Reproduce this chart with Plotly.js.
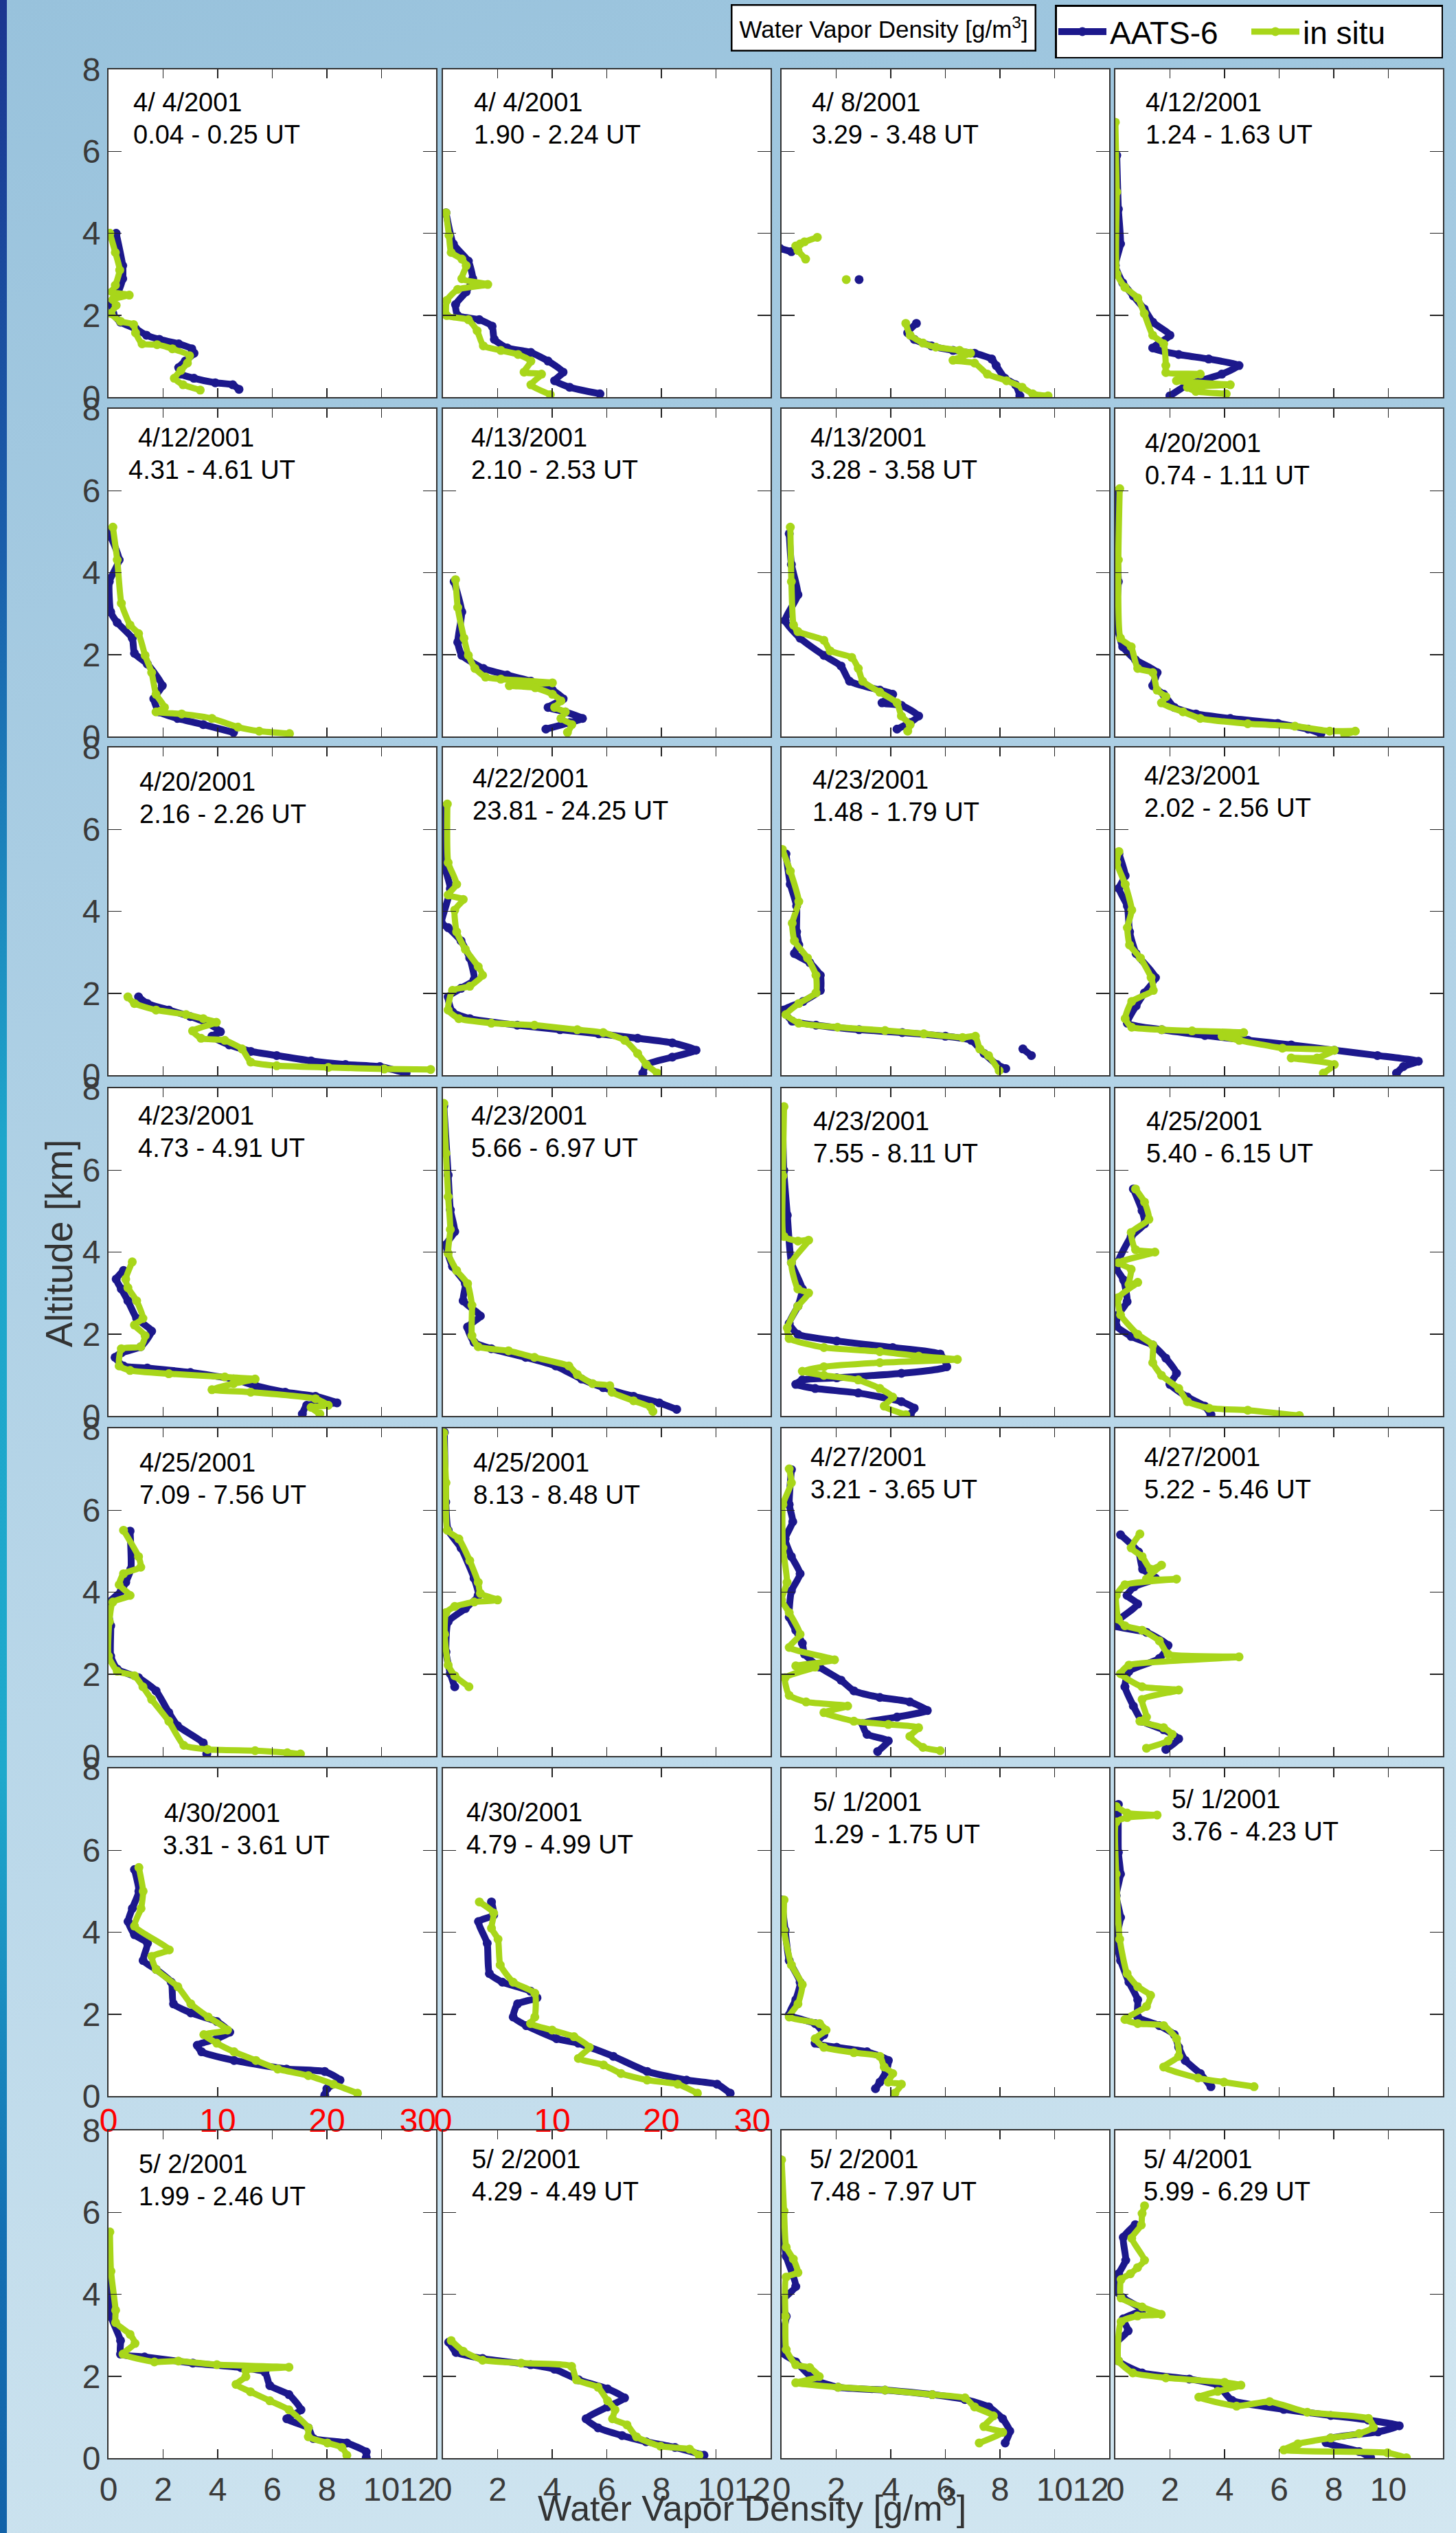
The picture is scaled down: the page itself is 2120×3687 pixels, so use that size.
<!DOCTYPE html>
<html>
<head>
<meta charset="utf-8">
<script src="https://cdn.plot.ly/plotly-3.0.1.min.js"></script>
<style>
html,body{margin:0;padding:0;}
body{width:2120px;height:3687px;overflow:hidden;position:relative;
background:linear-gradient(165deg,#98c2dc 0%,#a9cde3 30%,#bcd9ea 65%,#d3e7f1 100%);}
#strip{position:absolute;left:0;top:0;width:10px;height:3687px;
background:linear-gradient(180deg,#1b3590 0%,#1a5fab 22%,#1ea6cb 45%,#1fa9cc 70%,#1470b3 88%,#1262a8 100%);}
#plot{position:absolute;left:0;top:0;width:2120px;height:3687px;}
</style>
</head>
<body>
<div id="strip"></div>
<div id="plot"></div>
<script>
// ---------------- DATA ----------------
const dates = ["4/ 4/2001","4/ 4/2001","4/ 8/2001","4/12/2001","4/12/2001","4/13/2001","4/13/2001","4/20/2001",
"4/20/2001","4/22/2001","4/23/2001","4/23/2001","4/23/2001","4/23/2001","4/23/2001","4/25/2001",
"4/25/2001","4/25/2001","4/27/2001","4/27/2001","4/30/2001","4/30/2001","5/ 1/2001","5/ 1/2001",
"5/ 2/2001","5/ 2/2001","5/ 2/2001","5/ 4/2001"];
const times = ["0.04 - 0.25 UT","1.90 - 2.24 UT","3.29 - 3.48 UT","1.24 - 1.63 UT","4.31 - 4.61 UT","2.10 - 2.53 UT","3.28 - 3.58 UT","0.74 - 1.11 UT",
"2.16 - 2.26 UT","23.81 - 24.25 UT","1.48 - 1.79 UT","2.02 - 2.56 UT","4.73 - 4.91 UT","5.66 - 6.97 UT","7.55 - 8.11 UT","5.40 - 6.15 UT",
"7.09 - 7.56 UT","8.13 - 8.48 UT","3.21 - 3.65 UT","5.22 - 5.46 UT","3.31 - 3.61 UT","4.79 - 4.99 UT","1.29 - 1.75 UT","3.76 - 4.23 UT",
"1.99 - 2.46 UT","4.29 - 4.49 UT","7.48 - 7.97 UT","5.99 - 6.29 UT"];
const xTicksSmall = [0,2,4,6,8,10,12];
const xTickTextSmall = ["0","2","4","6","8","10","12"];
const xTicksWide = [0,10,20,30];
const xTickTextWide = ["0","10","20","30"];
const yTicks = [0,2,4,6,8];

// Panel 1
const aats_x_01=[0.28,0.52,0.52,0.36,0.13,0.16,0.44,0.99,1.39,1.86,2.57,3.05,3.13,2.81,2.57,2.65,3.13,3.91,4.55,4.78];
const aats_z_01=[4.00,3.21,2.89,2.57,2.26,2.04,1.83,1.67,1.51,1.41,1.30,1.18,1.07,0.88,0.72,0.56,0.46,0.35,0.30,0.19];
const situ_x_01=[0.05,0.25,0.41,0.25,0.13,0.76,0.16,0.28,0.09,0.44,0.92,0.99,1.23,1.78,2.34,2.97,2.89,2.65,2.41,2.73,3.36];
const situ_z_01=[4.00,3.53,3.10,2.73,2.57,2.49,2.38,2.24,2.04,1.85,1.77,1.57,1.30,1.28,1.18,1.01,0.83,0.65,0.46,0.30,0.17];
// Panel 2
const aats_x_02=[0.11,0.38,0.93,1.09,0.85,0.46,0.54,1.33,1.80,1.88,2.35,3.22,3.85,4.40,4.09,4.64,5.75];
const aats_z_02=[4.50,3.74,3.32,2.89,2.57,2.26,1.99,1.89,1.73,1.41,1.20,1.09,0.88,0.61,0.40,0.24,0.08];
const situ_x_02=[0.11,0.22,0.30,0.69,0.85,0.69,1.64,0.54,0.14,0.14,0.93,1.25,1.48,2.12,2.75,3.22,2.97,3.61,3.22,3.93];
const situ_z_02=[4.50,3.95,3.53,3.37,3.21,2.89,2.75,2.63,2.36,1.99,1.89,1.62,1.25,1.14,1.04,0.88,0.61,0.56,0.30,0.06];
// Panel 3
const aats_x_03=[-0.06,0.36,null,2.84,null,4.94,4.62,4.86,5.49,6.28,7.07,7.70,7.86,8.18,8.57,8.73];
const aats_z_03=[3.63,3.55,null,2.87,null,1.80,1.57,1.41,1.25,1.14,1.07,0.93,0.77,0.46,0.30,0.03];
const situ_x_03=[0.88,0.60,0.52,0.68,0.84,1.31,null,2.37,null,4.55,4.71,5.18,5.65,6.52,6.92,6.28,7.07,7.54,8.24,8.81,9.20,9.76];
const situ_z_03=[3.37,3.58,3.69,3.74,3.79,3.90,null,2.87,null,1.80,1.51,1.32,1.22,1.14,1.07,0.90,0.83,0.56,0.40,0.24,0.08,0.03];
// Panel 4
const aats_x_04=[0.05,0.11,0.19,0.00,0.27,0.66,1.06,1.37,2.00,1.37,2.32,3.42,4.53,3.90,2.64,2.00];
const aats_z_04=[5.90,4.59,3.74,3.21,2.79,2.47,2.15,1.83,1.51,1.20,1.04,0.93,0.77,0.56,0.30,0.03];
const situ_x_04=[0.00,0.05,0.06,0.35,0.82,1.06,1.37,1.77,1.85,1.85,3.11,2.24,4.21,2.64,2.95,4.06];
const situ_z_04=[6.71,5.01,3.00,2.68,2.42,2.04,1.51,1.30,0.77,0.60,0.56,0.40,0.30,0.24,0.14,0.08];
// Panel 5
const aats_x_05=[0.00,0.39,0.03,0.08,0.32,0.87,0.95,1.42,1.97,1.66,1.85,2.53,3.47,4.58];
const aats_z_05=[5.00,4.31,3.78,3.04,2.78,2.40,2.03,1.77,1.24,0.92,0.60,0.44,0.29,0.10];
const situ_x_05=[0.16,0.32,0.47,0.79,1.10,1.34,1.58,1.74,2.05,1.74,2.68,3.79,4.74,5.52,6.63];
const situ_z_05=[5.11,4.31,3.25,2.72,2.51,1.98,1.56,1.03,0.71,0.60,0.55,0.44,0.23,0.13,0.07];
// Panel 6
const aats_x_06=[0.41,0.69,0.54,0.69,1.48,2.35,3.22,4.01,4.40,3.85,4.48,5.11,4.64,3.77];
const aats_z_06=[3.78,3.04,2.30,1.98,1.66,1.50,1.35,1.13,0.92,0.71,0.60,0.44,0.34,0.18];
const situ_x_06=[0.46,0.54,0.77,0.93,1.17,1.56,2.12,4.01,2.43,3.38,4.01,4.32,4.09,4.48,4.32,4.72,4.56];
const situ_z_06=[3.83,3.15,2.40,1.98,1.66,1.45,1.40,1.31,1.24,1.19,1.03,0.87,0.71,0.60,0.44,0.29,0.10];
// Panel 7
const aats_x_07=[0.28,0.36,0.60,0.13,0.68,1.55,2.18,2.49,3.60,4.07,3.68,4.39,5.02,4.71,4.23];
const aats_z_07=[4.95,4.20,3.46,2.83,2.40,1.98,1.72,1.35,1.13,1.03,0.82,0.76,0.50,0.34,0.18];
const situ_x_07=[0.32,0.36,0.44,0.60,1.55,1.78,2.57,2.81,2.97,3.60,4.23,4.39,4.71,4.62];
const situ_z_07=[5.11,3.78,2.72,2.56,2.35,2.09,1.93,1.66,1.35,1.08,0.82,0.50,0.29,0.13];
// Panel 8
const aats_x_08=[0.11,0.03,0.11,0.03,0.27,0.74,1.53,1.37,1.77,2.16,2.95,4.21,5.95,7.06,7.53];
const aats_z_08=[6.00,4.84,3.78,2.83,2.19,1.87,1.56,1.24,1.03,0.71,0.55,0.44,0.32,0.18,0.07];
const situ_x_08=[0.16,0.11,0.19,0.58,0.82,1.37,1.53,1.85,1.69,2.48,3.11,4.85,6.58,7.85,8.79,8.40];
const situ_z_08=[6.05,4.31,2.40,2.19,1.66,1.56,1.13,0.97,0.82,0.60,0.44,0.31,0.25,0.13,0.13,0.05];
// Panel 9
const aats_x_09=[1.10,1.42,2.21,3.00,3.63,4.10,3.79,4.42,5.21,6.16,7.42,8.68,9.94,10.9];
const aats_z_09=[1.91,1.75,1.59,1.43,1.27,1.06,0.95,0.74,0.58,0.48,0.35,0.26,0.21,0.05];
const situ_x_09=[0.71,0.95,1.74,2.84,3.47,3.95,3.08,3.39,4.26,4.89,5.21,6.16,8.05,10.1,11.8];
const situ_z_09=[1.91,1.75,1.59,1.48,1.38,1.29,1.08,0.90,0.85,0.64,0.32,0.23,0.19,0.15,0.14];
// Panel 10
const aats_x_10=[0.11,0.03,0.27,-0.05,0.19,0.66,0.98,1.14,0.66,0.19,0.35,0.98,2.72,4.29,5.71,7.13,8.40,9.27,8.40,7.45,7.32];
const aats_z_10=[6.57,5.19,4.55,3.71,3.60,3.28,2.86,2.33,2.12,1.91,1.54,1.38,1.22,1.11,1.01,0.90,0.79,0.61,0.44,0.26,0.05];
const situ_x_10=[0.16,0.19,0.50,0.19,0.74,0.43,0.50,0.82,1.29,1.45,0.98,0.35,0.19,0.58,1.77,3.35,4.92,5.87,6.66,7.13,7.45,7.85];
const situ_z_10=[6.62,5.19,4.66,4.40,4.29,4.03,3.50,3.07,2.65,2.44,2.17,2.07,1.59,1.38,1.27,1.22,1.11,1.04,0.85,0.53,0.26,0.05];
// Panel 11
const aats_x_11=[0.16,0.32,0.55,0.55,0.63,0.47,1.03,1.42,1.42,0.79,0.08,0.39,1.26,2.84,4.42,6.00,6.95,7.42,7.89,8.21,null,8.84,9.15];
const aats_z_11=[5.40,4.66,4.13,3.50,3.18,2.97,2.75,2.44,2.07,1.80,1.59,1.32,1.22,1.11,1.04,0.95,0.85,0.53,0.26,0.16,null,0.64,0.48];
const situ_x_11=[0.03,0.32,0.63,0.39,0.47,0.95,1.26,1.26,0.63,0.16,0.63,2.05,3.79,5.21,6.63,7.10,7.26,7.58,7.97];
const situ_z_11=[5.51,4.98,4.24,3.71,3.28,2.86,2.44,2.01,1.75,1.48,1.27,1.17,1.09,1.01,0.92,0.95,0.64,0.48,0.11];
// Panel 12
const aats_x_12=[0.13,0.36,0.13,0.44,0.52,0.76,1.47,1.07,0.76,0.44,1.70,3.28,4.86,6.44,8.02,9.60,11.1,10.55,10.3];
const aats_z_12=[5.40,4.87,4.56,4.13,3.50,2.97,2.38,2.01,1.69,1.27,1.11,0.97,0.85,0.74,0.61,0.48,0.34,0.21,0.05];
const situ_x_12=[0.13,0.05,0.36,0.60,0.44,0.52,0.92,1.31,1.39,0.60,0.36,0.60,1.70,2.81,4.70,3.91,4.54,6.12,8.02,7.39,6.44,8.02,7.62];
const situ_z_12=[5.46,5.19,4.66,4.03,3.60,3.18,2.86,2.38,2.07,1.80,1.38,1.17,1.11,1.08,1.04,0.95,0.85,0.66,0.61,0.42,0.42,0.26,0.05];
// Panel 13
const aats_x_13=[0.55,0.28,0.47,0.71,1.03,1.58,1.18,0.47,0.24,0.55,1.42,3.00,4.58,5.37,6.47,7.58,8.37,7.26,7.10];
const aats_z_13=[3.55,3.34,3.10,2.81,2.38,2.07,1.69,1.54,1.43,1.22,1.17,1.06,0.90,0.74,0.58,0.48,0.32,0.26,0.05];
const situ_x_13=[0.87,0.63,0.71,1.03,1.26,0.95,1.34,1.18,0.47,0.39,0.79,2.21,4.26,5.37,4.58,3.79,5.21,7.58,8.05,7.42,7.74];
const situ_z_13=[3.76,3.34,3.13,2.81,2.38,2.22,1.96,1.69,1.64,1.22,1.11,1.03,0.95,0.90,0.79,0.64,0.58,0.42,0.26,0.21,0.05];
// Panel 14
const aats_x_14=[0.03,0.19,0.27,0.43,0.11,0.35,0.82,0.74,1.37,0.90,1.14,1.77,3.03,4.13,5.08,5.87,6.98,7.92,8.56];
const aats_z_14=[7.57,5.88,5.03,4.50,4.18,3.65,3.23,2.81,2.44,2.17,1.80,1.64,1.43,1.22,0.90,0.69,0.48,0.32,0.16];
const situ_x_14=[0.03,0.11,0.19,0.27,0.19,0.50,0.90,1.06,1.06,1.29,2.40,3.35,4.61,4.92,5.48,6.11,6.19,6.98,7.61,7.69];
const situ_z_14=[7.63,6.41,5.35,4.55,3.97,3.55,3.23,2.70,1.96,1.69,1.59,1.43,1.22,1.01,0.79,0.74,0.58,0.37,0.21,0.11];
// Panel 15
const aats_x_15=[0.03,0.08,0.21,0.36,0.76,0.60,0.28,0.60,2.02,4.07,5.81,6.05,4.39,2.02,0.76,0.52,1.23,2.81,4.39,4.86,4.71];
const aats_z_15=[7.50,6.00,4.90,3.74,3.10,2.68,2.26,1.99,1.83,1.67,1.51,1.20,1.04,0.93,0.88,0.77,0.67,0.56,0.35,0.19,0.03];
const situ_x_15=[0.09,0.05,0.09,0.60,0.99,0.36,0.60,0.99,0.60,0.21,0.28,1.55,3.60,5.02,6.44,3.60,1.55,0.76,1.55,2.81,3.60,4.07,3.76,4.55];
const situ_z_15=[7.55,5.86,4.38,4.27,4.29,3.74,3.10,3.00,2.68,2.15,1.89,1.67,1.57,1.46,1.38,1.30,1.20,1.09,0.99,0.88,0.67,0.46,0.24,0.03];
// Panel 16
const aats_x_16=[0.66,0.98,1.07,0.58,0.03,0.30,0.43,0.11,0.03,0.58,1.37,1.85,2.24,2.00,2.64,3.27,3.50];
const aats_z_16=[5.54,5.01,4.69,4.38,3.63,3.32,2.79,2.47,2.20,1.94,1.73,1.41,1.04,0.77,0.46,0.24,0.03];
const situ_x_16=[0.74,1.07,1.23,0.58,0.74,1.45,0.11,0.58,0.50,0.82,0.11,0.19,0.82,1.37,1.37,1.69,2.32,2.64,3.43,4.85,6.74];
const situ_z_16=[5.54,5.22,4.80,4.48,4.06,4.00,3.74,3.58,3.21,3.26,2.89,2.47,1.99,1.73,1.30,0.99,0.67,0.35,0.19,0.14,0.01];
// Panel 17
const aats_x_17=[0.79,0.82,0.63,0.47,-0.03,0.08,0.08,0.32,1.10,1.74,2.21,2.53,3.47,3.60];
const aats_z_17=[5.49,4.56,4.24,4.03,3.71,3.18,2.44,2.12,1.91,1.59,1.06,0.74,0.32,0.05];
const situ_x_17=[0.55,1.10,1.18,0.55,0.39,0.79,0.16,0.03,0.00,0.32,0.95,1.26,1.58,2.21,2.76,3.63,5.37,6.55,7.03];
const situ_z_17=[5.51,4.87,4.61,4.45,4.18,3.92,3.76,3.28,2.44,2.07,1.96,1.69,1.38,0.85,0.26,0.16,0.13,0.08,0.05];
// Panel 18
const aats_x_18=[0.05,0.10,0.19,0.66,1.14,1.29,0.82,0.19,0.11,0.27,0.43];
const aats_z_18=[7.90,6.20,5.51,5.08,4.34,3.92,3.60,3.28,2.54,2.01,1.69];
const situ_x_18=[0.03,0.11,0.16,0.58,0.98,1.29,1.37,2.00,1.14,0.43,0.11,0.06,0.19,0.43,0.95];
const situ_z_18=[7.89,6.67,5.51,5.30,4.77,4.24,3.97,3.81,3.76,3.65,3.50,2.97,2.22,1.96,1.69];
// Panel 19
const aats_x_19=[0.36,0.28,0.41,0.13,0.36,0.68,0.36,0.28,0.52,0.76,0.84,1.39,2.18,2.65,3.60,4.70,5.34,4.23,2.97,3.13,3.91,3.52];
const aats_z_19=[6.99,6.14,5.72,5.30,4.87,4.45,4.03,3.39,3.07,2.75,2.49,2.17,1.85,1.59,1.43,1.32,1.11,0.95,0.79,0.53,0.37,0.11];
const situ_x_19=[0.28,0.36,0.05,0.05,0.20,0.00,0.28,0.68,0.28,1.94,0.52,1.23,0.13,0.28,0.90,2.42,1.55,2.65,3.91,5.02,4.70,5.18,5.81];
const situ_z_19=[7.01,6.67,6.14,5.08,4.24,3.81,3.50,2.97,2.65,2.35,2.20,2.17,1.91,1.48,1.32,1.22,1.06,0.85,0.77,0.69,0.48,0.21,0.13];
// Panel 20
const aats_x_20=[0.19,0.85,1.00,1.47,0.69,0.43,0.82,0.03,-0.05,1.14,1.93,1.61,0.50,0.35,0.66,0.98,1.77,2.32,1.85];
const aats_z_20=[5.40,4.98,4.56,4.34,4.13,3.92,3.71,3.28,3.18,3.02,2.70,2.38,2.07,1.69,1.22,0.85,0.64,0.42,0.16];
const situ_x_20=[0.90,0.58,0.98,1.29,1.69,1.14,2.24,0.35,0.03,0.11,0.35,0.98,1.61,1.93,4.53,0.50,0.19,0.98,2.32,0.98,1.14,0.90,1.77,2.08,1.93,1.14];
const situ_z_20=[5.42,5.08,4.87,4.56,4.66,4.32,4.32,4.18,3.92,3.34,3.18,3.07,2.81,2.49,2.42,2.22,2.01,1.69,1.61,1.38,0.95,0.85,0.69,0.53,0.37,0.19];
// Panel 21 (0-30 scale)
const aats_x_21=[2.38,2.78,2.18,1.79,2.38,3.57,3.17,4.37,5.75,5.95,7.54,9.92,11.1,9.92,8.13,8.53,11.5,16.3,19.8,21.2,20.0,19.8];
const aats_z_21=[5.53,5.00,4.58,4.26,3.94,3.73,3.31,3.09,2.78,2.25,2.03,1.82,1.56,1.40,1.24,1.08,0.87,0.66,0.60,0.39,0.18,0.02];
const situ_x_21=[2.78,3.17,2.98,2.38,5.56,3.97,4.37,6.35,7.54,9.13,10.9,8.73,9.92,11.5,13.5,15.5,18.3,20.6,22.8];
const situ_z_21=[5.58,5.00,4.58,4.15,3.57,3.41,3.09,2.67,2.25,1.93,1.61,1.50,1.29,1.08,0.87,0.66,0.50,0.29,0.07];
// Panel 22 (0-30 scale)
const aats_x_22=[4.44,4.64,3.25,4.05,4.25,5.44,8.02,8.61,6.83,6.43,7.62,10.4,12.4,15.6,18.7,22.3,25.1,26.3];
const aats_z_22=[4.74,4.42,4.26,3.73,2.99,2.78,2.56,2.40,2.25,1.93,1.72,1.40,1.29,0.97,0.60,0.39,0.29,0.07];
const situ_x_22=[3.33,4.64,4.44,5.04,5.24,6.43,8.41,8.41,8.02,10.0,12.0,13.4,12.4,14.7,16.3,18.7,21.5,23.3];
const situ_z_22=[4.74,4.47,4.10,3.83,3.20,2.78,2.51,1.93,1.77,1.61,1.45,1.19,0.92,0.76,0.55,0.39,0.29,0.07];
// Panel 23
const aats_x_23=[0.00,0.13,0.28,0.68,0.52,0.28,1.23,1.55,1.23,2.02,3.13,3.91,3.83,3.60,3.44];
const aats_z_23=[4.79,4.05,3.31,2.78,2.35,1.98,1.77,1.50,1.29,1.19,1.08,0.87,0.60,0.34,0.18];
const situ_x_23=[0.09,0.09,0.36,0.76,0.60,0.28,1.39,1.63,1.23,1.55,2.65,3.60,3.76,4.07,3.91,4.39,4.15];
const situ_z_23=[4.79,4.05,3.20,2.72,2.25,1.93,1.77,1.61,1.40,1.19,1.06,0.97,0.71,0.55,0.34,0.29,0.07];
// Panel 24
const aats_x_24=[0.11,0.11,0.19,0.03,0.19,0.03,0.19,0.50,0.82,0.82,1.61,2.16,2.32,2.56,3.11,3.50];
const aats_z_24=[7.12,5.95,5.42,4.89,4.36,3.83,3.31,2.78,2.35,1.93,1.72,1.50,1.19,0.87,0.55,0.23];
const situ_x_24=[0.03,0.43,1.53,0.43,0.03,0.03,0.16,0.43,0.82,1.29,1.14,0.35,0.82,1.77,2.24,2.32,1.77,3.03,3.98,5.08];
const situ_z_24=[7.07,6.91,6.86,6.80,6.69,5.42,3.83,2.99,2.67,2.46,2.19,1.87,1.77,1.72,1.40,0.97,0.71,0.44,0.34,0.23];
// Panel 25
const aats_x_25=[-0.05,-0.09,0.09,0.44,0.44,1.32,3.09,4.85,5.73,5.91,6.61,7.05,6.53,7.32,7.50,8.73,9.44,9.44];
const aats_z_25=[5.30,4.56,3.46,2.87,2.54,2.47,2.32,2.21,2.10,1.77,1.55,1.18,0.96,0.74,0.48,0.37,0.15,0.01];
const situ_x_25=[0.05,0.09,0.26,0.26,0.79,0.97,0.53,1.68,2.56,3.97,6.61,5.03,5.03,4.67,5.20,5.91,6.61,7.32,7.32,8.02,8.55,8.73];
const situ_z_25=[5.52,4.56,3.61,3.31,3.02,2.80,2.54,2.35,2.37,2.28,2.22,2.13,1.99,1.80,1.62,1.40,1.18,0.74,0.52,0.37,0.26,0.07];
// Panel 26
const aats_x_26=[0.21,0.48,1.45,3.21,4.09,4.97,6.03,6.65,6.03,5.24,5.68,6.56,7.44,8.50,9.56];
const aats_z_26=[2.83,2.58,2.43,2.28,2.17,1.91,1.69,1.47,1.25,0.96,0.74,0.55,0.40,0.26,0.07];
const situ_x_26=[0.30,0.74,1.45,2.86,4.71,4.89,5.68,6.03,6.30,6.21,6.74,7.09,7.97,9.03,9.38];
const situ_z_26=[2.87,2.61,2.39,2.32,2.24,1.91,1.73,1.40,1.18,0.96,0.81,0.52,0.29,0.22,0.07];
// Panel 27
const aats_x_27=[-0.03,0.00,0.17,0.52,0.00,0.17,0.00,0.00,0.52,1.21,2.07,3.79,5.52,6.72,7.59,8.10,8.36,8.19];
const aats_z_27=[7.28,6.03,4.93,4.19,3.83,3.46,2.87,2.58,2.35,1.91,1.73,1.66,1.55,1.43,1.25,0.96,0.66,0.37];
const situ_x_27=[0.00,0.09,0.17,0.43,0.60,0.17,0.14,0.17,0.52,1.03,1.38,0.52,2.07,3.79,5.52,6.72,7.07,7.76,7.41,8.10,7.24];
const situ_z_27=[7.28,6.03,5.15,4.86,4.53,4.42,3.46,2.65,2.28,2.21,1.99,1.84,1.73,1.66,1.55,1.47,1.25,1.03,0.77,0.63,0.37];
// Panel 28
const aats_x_28=[0.73,0.29,0.38,0.12,-0.05,0.29,0.98,0.29,0.47,0.03,0.12,0.98,2.71,3.75,4.27,6.17,7.89,9.27,10.40,9.62,7.89,7.72,8.93,9.35];
const aats_z_28=[5.70,5.39,4.83,4.50,4.14,3.91,3.62,3.40,3.11,2.81,2.37,2.08,1.93,1.78,1.41,1.19,1.04,0.93,0.79,0.64,0.49,0.38,0.16,0.01];
const situ_x_28=[1.07,0.98,0.95,0.60,1.07,0.81,0.55,0.21,0.21,0.98,1.68,0.81,0.21,0.12,0.64,1.85,4.00,4.60,3.75,3.06,4.44,5.65,7.03,9.27,9.45,8.93,7.89,6.69,6.17,9.97,10.66];
const situ_z_28=[6.16,5.97,5.69,5.37,4.83,4.65,4.50,4.36,3.91,3.69,3.51,3.47,3.33,2.37,2.08,1.96,1.85,1.78,1.63,1.49,1.27,1.38,1.12,0.97,0.75,0.60,0.49,0.35,0.20,0.13,0.01];

const aatsX=[aats_x_01,aats_x_02,aats_x_03,aats_x_04,aats_x_05,aats_x_06,aats_x_07,aats_x_08,aats_x_09,aats_x_10,aats_x_11,aats_x_12,aats_x_13,aats_x_14,aats_x_15,aats_x_16,aats_x_17,aats_x_18,aats_x_19,aats_x_20,aats_x_21,aats_x_22,aats_x_23,aats_x_24,aats_x_25,aats_x_26,aats_x_27,aats_x_28];
const aatsZ=[aats_z_01,aats_z_02,aats_z_03,aats_z_04,aats_z_05,aats_z_06,aats_z_07,aats_z_08,aats_z_09,aats_z_10,aats_z_11,aats_z_12,aats_z_13,aats_z_14,aats_z_15,aats_z_16,aats_z_17,aats_z_18,aats_z_19,aats_z_20,aats_z_21,aats_z_22,aats_z_23,aats_z_24,aats_z_25,aats_z_26,aats_z_27,aats_z_28];
const situX=[situ_x_01,situ_x_02,situ_x_03,situ_x_04,situ_x_05,situ_x_06,situ_x_07,situ_x_08,situ_x_09,situ_x_10,situ_x_11,situ_x_12,situ_x_13,situ_x_14,situ_x_15,situ_x_16,situ_x_17,situ_x_18,situ_x_19,situ_x_20,situ_x_21,situ_x_22,situ_x_23,situ_x_24,situ_x_25,situ_x_26,situ_x_27,situ_x_28];
const situZ=[situ_z_01,situ_z_02,situ_z_03,situ_z_04,situ_z_05,situ_z_06,situ_z_07,situ_z_08,situ_z_09,situ_z_10,situ_z_11,situ_z_12,situ_z_13,situ_z_14,situ_z_15,situ_z_16,situ_z_17,situ_z_18,situ_z_19,situ_z_20,situ_z_21,situ_z_22,situ_z_23,situ_z_24,situ_z_25,situ_z_26,situ_z_27,situ_z_28];
const widePanels=[20,21]; // panels using 0-30 scale

// ---------------- LAYOUT GEOMETRY ----------------
const W=2120, H=3687;
const colLeft=[158,645,1138,1624], panelW=477;
const rowTop=[101,595,1088,1584,2079,2574,3101], panelH=477;
// [line1 x offset, line2 x offset, cap-top offset] for each panel label
const labelPos=[[34,34,33],[43,43,33],[42,42,33],[42,42,33],
[41,27,27],[39,39,27],[40,40,27],[41,41,35],
[43,43,35],[41,41,30],[43,43,32],[40,40,26],
[41,41,25],[39,39,25],[44,44,33],[43,43,33],
[43,43,35],[42,42,35],[40,40,27],[40,40,27],
[79,77,50],[32,32,49],[44,44,34],[80,80,30],
[42,42,34],[40,40,27],[39,39,27],[39,39,27]];

const FONT='Liberation Sans, Arial, Helvetica, sans-serif';
const NAVY='#1c188c', GREEN='#a8d61a';
const PAD='\u00a0\u00a0\u00a0\u00a0'; // pulls the last tick label inside the frame, as in the original

const traces=[], annotations=[];
const layout={width:W,height:H,margin:{l:0,r:0,t:0,b:0,autoexpand:false},
  paper_bgcolor:'rgba(0,0,0,0)',plot_bgcolor:'#ffffff',
  font:{family:FONT,color:'#000'},
  showlegend:true,
  legend:{orientation:'h',x:2101/W,y:1-7/H,xanchor:'right',yanchor:'top',
    bgcolor:'#ffffff',bordercolor:'#000',borderwidth:2.5,
    font:{size:46,family:FONT,color:'#000'},entrywidth:196,entrywidthmode:'pixels',
    itemwidth:70,tracegroupgap:0,valign:'middle'},
  annotations:annotations};

for(let i=0;i<28;i++){
  const r=Math.floor(i/4), c=i%4, n=i+1, s=(n===1?'':String(n));
  const wide=widePanels.includes(i);
  const showX = (r===6) || (r===5 && wide);
  const tt=(wide?xTickTextWide:xTickTextSmall).slice();
  tt[tt.length-1]=tt[tt.length-1]+PAD;
  layout['xaxis'+s]={domain:[colLeft[c]/W,(colLeft[c]+panelW)/W],anchor:'y'+s,
    range:wide?[0,30]:[0,12],tickvals:wide?xTicksWide:xTicksSmall,ticktext:tt,tickangle:0,
    ticks:'inside',ticklen:13,tickwidth:1.5,tickcolor:'#222',
    showline:true,linecolor:'#333',linewidth:2,mirror:'ticks',
    showgrid:false,zeroline:false,showticklabels:showX,ticklabelstandoff:wide?-8:2,
    tickfont:{family:FONT,size:wide?48:48,color:wide?'#ff0000':'#3a3a3a'},fixedrange:true};
  layout['yaxis'+s]={domain:[1-(rowTop[r]+panelH)/H,1-rowTop[r]/H],anchor:'x'+s,
    range:[0,8],tickvals:yTicks,tickangle:0,
    ticks:'inside',ticklen:19,tickwidth:1.5,tickcolor:'#222',
    showline:true,linecolor:'#333',linewidth:2,mirror:'ticks',
    showgrid:false,zeroline:false,showticklabels:(c===0),ticklabelstandoff:0,
    tickfont:{family:FONT,size:48,color:'#3a3a3a'},fixedrange:true};

  traces.push({x:aatsX[i],y:aatsZ[i],xaxis:'x'+s,yaxis:'y'+s,type:'scatter',mode:'lines+markers',
    name:'AATS-6',legendgroup:'a',showlegend:(i===0),cliponaxis:true,
    line:{color:NAVY,width:10,shape:'spline',smoothing:0.5},marker:{color:NAVY,size:13}});
  traces.push({x:situX[i],y:situZ[i],xaxis:'x'+s,yaxis:'y'+s,type:'scatter',mode:'lines+markers',
    name:'in situ',legendgroup:'b',showlegend:(i===0),cliponaxis:true,
    line:{color:GREEN,width:9,shape:'spline',smoothing:0.5},marker:{color:GREEN,size:13}});

  const lp=labelPos[i];
  annotations.push({xref:'paper',yref:'paper',x:(colLeft[c]+lp[0])/W,y:1-(rowTop[r]+lp[2]-8)/H,
    xanchor:'left',yanchor:'top',showarrow:false,text:dates[i],font:{size:38,family:FONT,color:'#000'}});
  annotations.push({xref:'paper',yref:'paper',x:(colLeft[c]+lp[1])/W,y:1-(rowTop[r]+lp[2]+47-8)/H,
    xanchor:'left',yanchor:'top',showarrow:false,text:times[i],font:{size:38,family:FONT,color:'#000'}});
}

// global axis titles and header box
annotations.push({xref:'paper',yref:'paper',x:86/W,y:1-1810/H,xanchor:'center',yanchor:'middle',
  textangle:-90,showarrow:false,text:'Altitude [km]',font:{size:55,family:FONT,color:'#333'}});
annotations.push({xref:'paper',yref:'paper',x:1095/W,y:1-3647/H,xanchor:'center',yanchor:'middle',
  showarrow:false,text:'Water Vapor Density [g/m<sup>3</sup>]',font:{size:52,family:FONT,color:'#333'}});
annotations.push({xref:'paper',yref:'paper',x:1064/W,y:1-6/H,xanchor:'left',yanchor:'top',
  showarrow:false,text:'Water Vapor Density [g/m<sup>3</sup>]',font:{size:35,family:FONT,color:'#000'},
  bgcolor:'#ffffff',bordercolor:'#000',borderwidth:2.5,borderpad:10});

Plotly.newPlot('plot',traces,layout,{staticPlot:true,displayModeBar:false});
</script>
</body>
</html>
